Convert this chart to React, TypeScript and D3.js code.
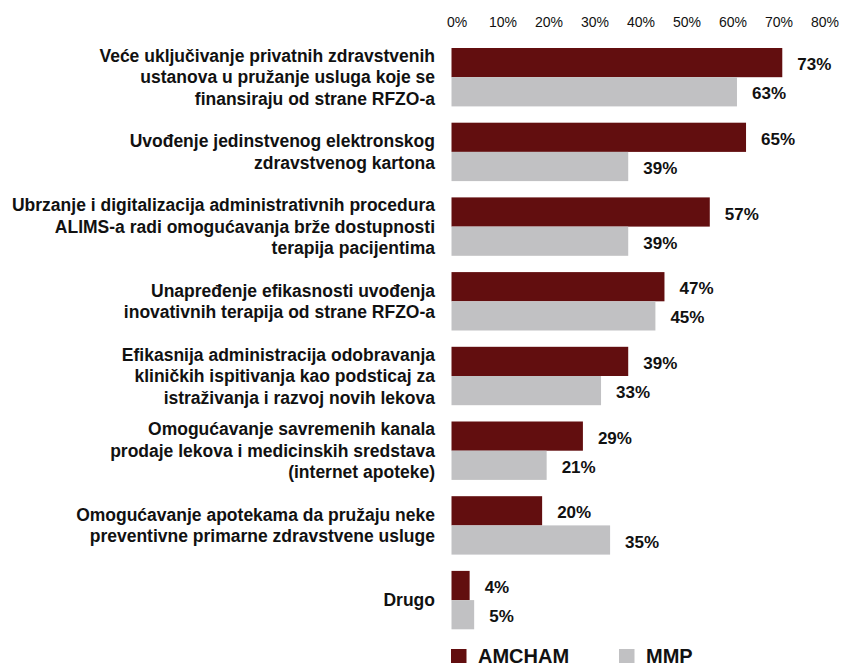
import React from "react";
import * as d3 from "d3";

const categories: string[][] = [
  ["Veće uključivanje privatnih zdravstvenih", "ustanova u pružanje usluga koje se", "finansiraju od strane RFZO-a"],
  ["Uvođenje jedinstvenog elektronskog", "zdravstvenog kartona"],
  ["Ubrzanje i digitalizacija administrativnih procedura", "ALIMS-a radi omogućavanja brže dostupnosti", "terapija pacijentima"],
  ["Unapređenje efikasnosti uvođenja", "inovativnih terapija od strane RFZO-a"],
  ["Efikasnija administracija odobravanja", "kliničkih ispitivanja kao podsticaj za", "istraživanja i razvoj novih lekova"],
  ["Omogućavanje savremenih kanala", "prodaje lekova i medicinskih sredstava", "(internet apoteke)"],
  ["Omogućavanje apotekama da pružaju neke", "preventivne primarne zdravstvene usluge"],
  ["Drugo"],
];
const amcham = [73, 65, 57, 47, 39, 29, 20, 4];
const mmp = [63, 39, 39, 45, 33, 21, 35, 5];
const ticks = [0, 10, 20, 30, 40, 50, 60, 70, 80];
const seriesNames = ["AMCHAM", "MMP"];
const colors = ["#620e0f", "#c1c1c3"];

const W = 844;
const H = 663;
const FONT = "'Liberation Sans', Arial, sans-serif";

export default function App() {
  const x = d3.scaleLinear().domain([0, 80]).range([451.5, 814]);
  // tick labels sit on a slightly wider grid than the bars (as in the reference)
  const xt = d3.scaleLinear().domain([0, 80]).range([457, 825]);
  const step = 74.7;
  const top0 = 48;
  const barH = 29.2;
  const y = d3
    .scaleLinear()
    .domain([0, categories.length - 1])
    .range([top0, top0 + step * (categories.length - 1)]);

  const lineH = 21.5;

  return (
    <svg
      width={W}
      height={H}
      style={{ position: "absolute", left: 0, top: 0, background: "#fff" }}
      fontFamily={FONT}
    >
      {ticks.map((t) => (
        <text
          key={t}
          x={xt(t)}
          y={27}
          textAnchor="middle"
          fontSize={14}
          fill="#111"
        >
          {t}%
        </text>
      ))}
      {categories.map((lines, i) => {
        const cy = y(i) + barH;
        const n = lines.length;
        return (
          <g key={i}>
            {lines.map((ln, j) => (
              <text
                key={j}
                x={435}
                y={cy + (j - (n - 1) / 2) * lineH + 6}
                textAnchor="end"
                fontSize={17.5}
                fontWeight="bold"
                fill="#111"
              >
                {ln}
              </text>
            ))}
            {[amcham[i], mmp[i]].map((v, s) => {
              const by = y(i) + s * barH;
              return (
                <g key={s}>
                  <rect
                    x={x(0)}
                    y={by}
                    width={x(v) - x(0)}
                    height={barH}
                    fill={colors[s]}
                  />
                  <text
                    x={x(v) + 15}
                    y={by + barH / 2 + 7.5}
                    fontSize={17}
                    fontWeight="bold"
                    fill="#111"
                  >
                    {v}%
                  </text>
                </g>
              );
            })}
          </g>
        );
      })}
      {seriesNames.map((nm, s) => {
        const lx = s === 0 ? 451 : 619;
        return (
          <g key={nm}>
            <rect x={lx} y={649} width={15.5} height={15.5} fill={colors[s]} />
            <text
              x={lx + 27}
              y={663}
              fontSize={20}
              fontWeight="bold"
              fill="#111"
            >
              {nm}
            </text>
          </g>
        );
      })}
    </svg>
  );
}
